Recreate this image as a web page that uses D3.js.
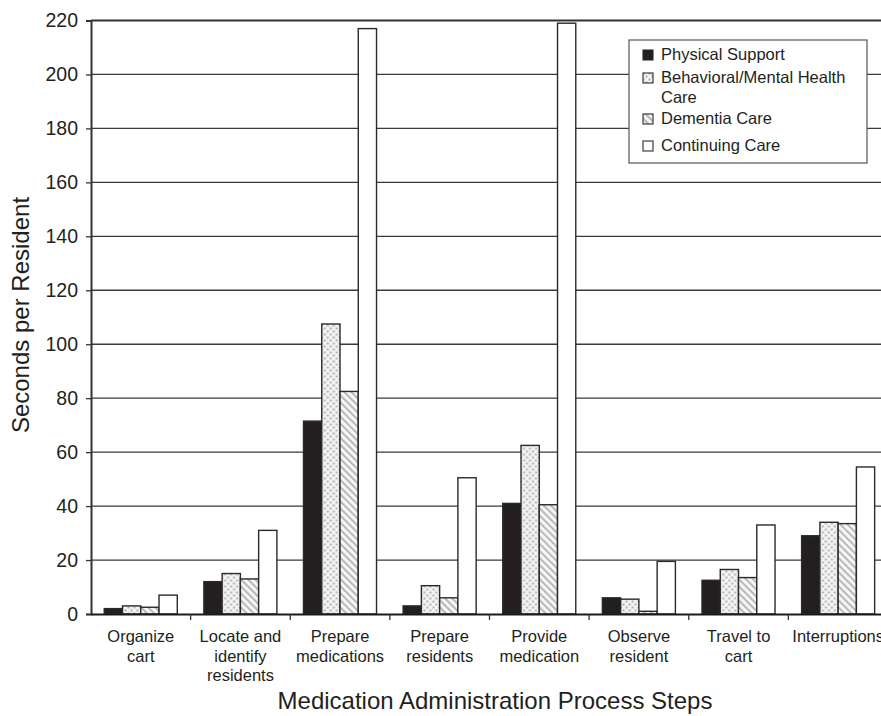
<!DOCTYPE html>
<html>
<head>
<meta charset="utf-8">
<script src="https://cdn.jsdelivr.net/npm/d3@7"></script>
<style>
  html, body { margin: 0; padding: 0; background: #fff; }
  svg { display: block; font-family: "Liberation Sans", Arial, Helvetica, sans-serif; }
</style>
</head>
<body>
<svg id="chart" width="881" height="716"></svg>
<script>
// ---- Data ----
const categories = [
  ["Organize", "cart"],
  ["Locate and", "identify", "residents"],
  ["Prepare", "medications"],
  ["Prepare", "residents"],
  ["Provide", "medication"],
  ["Observe", "resident"],
  ["Travel to", "cart"],
  ["Interruptions"]
];
const seriesNames = ["Physical Support", "Behavioral/Mental Health Care", "Dementia Care", "Continuing Care"];
const physicalSupport   = [2,   12,   71.5,  3,    41,   6,   12.5, 29];
const behavioralMental  = [3,   15,   107.5, 10.5, 62.5, 5.5, 16.5, 34];
const dementiaCare      = [2.5, 13,   82.5,  6,    40.5, 1,   13.5, 33.5];
const continuingCare    = [7,   31,   217,   50.5, 219,  19.5, 33,  54.5];
const yTicks = [0, 20, 40, 60, 80, 100, 120, 140, 160, 180, 200, 220];
const yTitle = "Seconds per Resident";
const xTitle = "Medication Administration Process Steps";

const seriesValues = [physicalSupport, behavioralMental, dementiaCare, continuingCare];
const catKeys = categories.map(c => c.join(" "));
const rows = catKeys.map((k, i) => ({ key: k, lines: categories[i], values: seriesValues.map(s => s[i]) }));

// ---- Layout ----
const svg = d3.select("#chart");
const plot = { left: 91, right: 888, top: 20.5, bottom: 614 };
const ink = "#231f20";

const x0 = d3.scaleBand().domain(catKeys).range([plot.left, plot.right]).padding(0);
const bw = x0.bandwidth();
const x1 = d3.scaleBand().domain(d3.range(4)).range([bw * 0.133, bw * 0.866]).padding(0);
const y = d3.scaleLinear().domain([0, 220]).range([plot.bottom, plot.top]);

// ---- Patterns ----
const defs = svg.append("defs");
const dots = defs.append("pattern").attr("id", "dots").attr("patternUnits", "userSpaceOnUse")
  .attr("width", 6).attr("height", 6);
dots.append("rect").attr("width", 6).attr("height", 6).attr("fill", "#f3f3f3");
dots.append("rect").attr("x", 0.5).attr("y", 0.5).attr("width", 2).attr("height", 2).attr("fill", "#b0b0b0");
dots.append("rect").attr("x", 3.5).attr("y", 3.5).attr("width", 2).attr("height", 2).attr("fill", "#b0b0b0");

const hatch = defs.append("pattern").attr("id", "hatch").attr("patternUnits", "userSpaceOnUse")
  .attr("width", 5).attr("height", 5).attr("patternTransform", "rotate(-45)");
hatch.append("rect").attr("width", 5).attr("height", 5).attr("fill", "#f5f5f5");
hatch.append("rect").attr("x", 0).attr("y", 0).attr("width", 1.8).attr("height", 5).attr("fill", "#b3b3b3");

const fills = [ink, "url(#dots)", "url(#hatch)", "#ffffff"];

// ---- Gridlines ----
svg.append("g").selectAll("line").data(yTicks.filter(t => t > 0)).join("line")
  .attr("x1", plot.left).attr("x2", plot.right)
  .attr("y1", d => y(d)).attr("y2", d => y(d))
  .attr("stroke", d => d === 220 ? "#333" : "#3a3a3a")
  .attr("stroke-width", d => d === 220 ? 2 : 1.3);

// ---- Bars ----
const groups = svg.append("g").selectAll("g").data(rows).join("g")
  .attr("transform", d => `translate(${x0(d.key)},0)`);
groups.selectAll("rect").data(d => d.values.map((v, i) => ({ v, i }))).join("rect")
  .attr("x", d => x1(d.i))
  .attr("y", d => y(d.v))
  .attr("width", x1.bandwidth())
  .attr("height", d => y(0) - y(d.v))
  .attr("fill", d => fills[d.i])
  .attr("stroke", "#2a2a2a")
  .attr("stroke-width", 1.4);

// ---- Y axis ----
const yAxis = d3.axisLeft(y).tickValues(yTicks).tickSize(5).tickPadding(8);
const gy = svg.append("g").attr("transform", `translate(${plot.left},0)`).call(yAxis);
gy.select(".domain").attr("stroke", "#333").attr("stroke-width", 2);
gy.selectAll(".tick line").attr("stroke", "#333").attr("stroke-width", 1.3);
gy.selectAll(".tick text").attr("font-size", 19.5).attr("fill", ink)
  .attr("font-family", "Liberation Sans, Arial, sans-serif");

// ---- X axis ----
const xAxis = d3.axisBottom(x0).tickSize(0).tickFormat("");
const gx = svg.append("g").attr("transform", `translate(0,${plot.bottom})`).call(xAxis);
gx.select(".domain").attr("stroke", "#1a1a1a").attr("stroke-width", 2.2);
// boundary ticks between categories
svg.append("g").selectAll("line").data(catKeys.slice(1)).join("line")
  .attr("x1", d => x0(d)).attr("x2", d => x0(d))
  .attr("y1", plot.bottom).attr("y2", plot.bottom + 6)
  .attr("stroke", "#333").attr("stroke-width", 1.3);

// category labels
const lbl = svg.append("g").selectAll("text").data(rows).join("text")
  .attr("text-anchor", "middle")
  .attr("font-size", 16.5)
  .attr("fill", ink)
  .attr("transform", d => `translate(${x0(d.key) + bw / 2},642)`);
lbl.selectAll("tspan").data(d => d.lines).join("tspan")
  .attr("x", 0).attr("y", (d, i) => i * 19.7).text(d => d);

// ---- Axis titles ----
svg.append("text").attr("x", 495).attr("y", 709)
  .attr("text-anchor", "middle").attr("font-size", 24).attr("fill", ink).text(xTitle);
svg.append("text").attr("transform", `translate(29,${315}) rotate(-90)`)
  .attr("text-anchor", "middle").attr("font-size", 24).attr("fill", ink).text(yTitle);

// ---- Legend ----
const leg = svg.append("g");
leg.append("rect").attr("x", 629).attr("y", 40).attr("width", 238).attr("height", 123)
  .attr("fill", "#fff").attr("stroke", "#555").attr("stroke-width", 1.2);
const legendRows = [
  { i: 0, lines: ["Physical Support"], base: 60 },
  { i: 1, lines: ["Behavioral/Mental Health", "Care"], base: 83 },
  { i: 2, lines: ["Dementia Care"], base: 124 },
  { i: 3, lines: ["Continuing Care"], base: 151 }
];
legendRows.forEach(r => { r.name = seriesNames[r.i]; });
const li = leg.selectAll("g.item").data(legendRows).join("g").attr("class", "item");
li.append("rect").attr("x", 643).attr("y", d => d.base - 10).attr("width", 10).attr("height", 10)
  .attr("fill", d => fills[d.i]).attr("stroke", "#2a2a2a").attr("stroke-width", 1.1);
const lt = li.append("text").attr("font-size", 16.5).attr("fill", ink)
  .attr("transform", d => `translate(661,${d.base})`);
lt.selectAll("tspan").data(d => d.lines).join("tspan")
  .attr("x", 0).attr("y", (d, i) => i * 19.5).text(d => d);
</script>
</body>
</html>
